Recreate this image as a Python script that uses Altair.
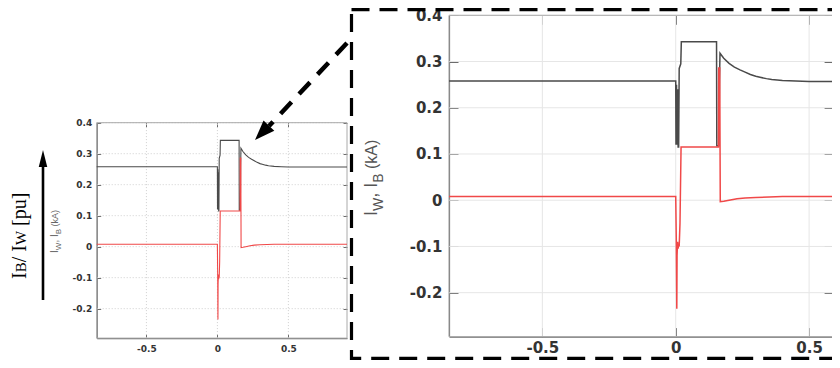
import altair as alt
import pandas as pd

# ---------------- data ----------------
# black trace (I_W)
t_w = [-0.85, 0.0, 0.001, 0.003, 0.005, 0.007, 0.009, 0.011, 0.013, 0.019, 0.021,
       0.153, 0.154, 0.162, 0.164, 0.166, 0.18, 0.2, 0.22, 0.241, 0.26, 0.28,
       0.3, 0.316, 0.34, 0.36, 0.4, 0.45, 0.5, 1.0]
i_w = [0.258, 0.258, 0.12, 0.25, 0.12, 0.24, 0.115, 0.115, 0.285, 0.295, 0.343,
       0.343, 0.118, 0.118, 0.26, 0.318, 0.307, 0.296, 0.288, 0.282, 0.277, 0.272,
       0.268, 0.266, 0.263, 0.261, 0.259, 0.258, 0.257, 0.257]
# red trace (I_B)
t_b = [-0.85, 0.0, 0.002, 0.004, 0.005, 0.007, 0.009, 0.011, 0.013, 0.016, 0.02,
       0.16, 0.161, 0.165, 0.167, 0.18, 0.2, 0.23, 0.26, 0.3, 0.35, 0.4, 1.0]
i_b = [0.008, 0.008, -0.08, -0.235, -0.12, -0.09, -0.105, -0.095, -0.1, -0.05, 0.115,
       0.115, 0.286, 0.286, -0.003, -0.002, 0.0, 0.003, 0.005, 0.006, 0.007, 0.008, 0.008]

x_ticks = [-0.5, 0, 0.5]
y_ticks = [-0.2, -0.1, 0, 0.1, 0.2, 0.3, 0.4]
x_dom_small = [-0.85, 0.913]
x_dom_zoom = [-0.85, 0.59]
y_dom = [-0.295, 0.4]

W, H = 824, 352

df_w = pd.DataFrame({"t": t_w, "i": i_w})
df_b = pd.DataFrame({"t": t_b, "i": i_b})
one = pd.DataFrame({"a": [0]})


def panel(xdom, xr, ydom, yr, fs, lw, tick_len, lpx, lpy, grid_props):
    xs = alt.Scale(domain=xdom, range=xr, clamp=True, nice=False, zero=False)
    ys = alt.Scale(domain=ydom, range=yr, nice=False, zero=False)
    frame = pd.DataFrame({"x0": [xdom[0]], "x1": [xdom[1]], "y0": [ydom[0]], "y1": [ydom[1]]})
    gx = pd.DataFrame({"v": x_ticks, "a": ydom[0], "b": ydom[1]})
    gy = pd.DataFrame({"v": y_ticks, "a": xdom[0], "b": xdom[1]})
    grid_x = alt.Chart(gx).mark_rule(**grid_props).encode(
        x=alt.X("v:Q", scale=xs, axis=None),
        y=alt.Y("a:Q", scale=ys, axis=None), y2="b:Q")
    grid_y = alt.Chart(gy).mark_rule(**grid_props).encode(
        y=alt.Y("v:Q", scale=ys, axis=None),
        x=alt.X("a:Q", scale=xs, axis=None), x2="b:Q")
    lab = dict(labelFont="DejaVu Sans", labelFontSize=fs, labelFontWeight="bold",
               labelColor="#333333", labelExpr="toString(datum.value)", title=None,
               ticks=False, domain=True, domainColor="#6a6a6a", domainWidth=1.2,
               grid=False)
    base = alt.Chart(frame).mark_rect(fillOpacity=0, stroke="#aaaaaa", strokeWidth=1).encode(
        x=alt.X("x0:Q", scale=xs, axis=alt.Axis(orient="bottom", offset=yr[0] - H,
                                                   values=x_ticks, labelPadding=lpx, **lab)),
        x2="x1:Q",
        y=alt.Y("y0:Q", scale=ys, axis=alt.Axis(orient="left", offset=-xr[0],
                                                   values=y_ticks, labelPadding=lpy, **lab)),
        y2="y1:Q",
    )
    tk = dict(labels=False, domain=False, grid=False, ticks=True, tickSize=tick_len,
              tickColor="#6a6a6a", tickWidth=1, title=None)
    ticks_a = alt.Chart(frame).mark_point(opacity=0).encode(
        x=alt.X("x0:Q", scale=xs, axis=alt.Axis(orient="top", offset=-yr[0], values=x_ticks, **tk)),
        y=alt.Y("y0:Q", scale=ys, axis=alt.Axis(orient="right", offset=xr[0] - W, values=y_ticks, **tk)),
    )
    ticks_b = alt.Chart(frame).mark_point(opacity=0).encode(
        x=alt.X("x0:Q", scale=xs, axis=alt.Axis(orient="bottom", offset=yr[1] - H, values=x_ticks, **tk)),
        y=alt.Y("y0:Q", scale=ys, axis=alt.Axis(orient="left", offset=-xr[1], values=y_ticks, **tk)),
    )
    black = alt.Chart(df_w).mark_line(color="#4a4a4a", strokeWidth=lw).encode(
        x=alt.X("t:Q", scale=xs, axis=None), y=alt.Y("i:Q", scale=ys, axis=None))
    red = alt.Chart(df_b).mark_line(color="#f04848", strokeWidth=lw).encode(
        x=alt.X("t:Q", scale=xs, axis=None), y=alt.Y("i:Q", scale=ys, axis=None))
    return [grid_x, grid_y, base, ticks_a, ticks_b, black, red]


def vtext(txt, x, y, size, font, color):
    return alt.Chart(one).mark_text(text=txt, angle=270, align="left", baseline="alphabetic",
                                    font=font, fontSize=size, color=color).encode(
        x=alt.value(x), y=alt.value(y))


small = panel(x_dom_small, [88.7, 339.0], y_dom, [330.1, 114.7], 9, 1.1, 4, 6, 5,
              dict(color="#cfcfcf", strokeDash=[1, 2], strokeWidth=1))
zoom = panel(x_dom_zoom, [441.0, 825.1], y_dom, [328.6, 7.3], 15, 1.5, 9, 4, 7,
             dict(color="#e6e6e6", strokeWidth=1))

# dashed frame around the zoomed panel
box = alt.Chart(one).mark_rect(fillOpacity=0, stroke="black", strokeWidth=3.2,
                               strokeDash=[18, 10]).encode(
    x=alt.value(343.5), x2=alt.value(860), y=alt.value(1.7), y2=alt.value(H - 1.6))

# dashed pointer arrow
arrow_line = alt.Chart(one).mark_rule(color="black", strokeWidth=4.5, strokeDash=[16, 11]).encode(
    x=alt.value(339), y=alt.value(35), x2=alt.value(261), y2=alt.value(118))
arrow_head = alt.Chart(one).mark_point(shape="M0,-1L0.6,0.6L-0.6,0.6Z", filled=True, color="black",
                                       opacity=1, size=625, angle=224).encode(
    x=alt.value(255.7), y=alt.value(123))

# upward arrow beside the outer label
up_line = alt.Chart(one).mark_rule(color="black", strokeWidth=2.6).encode(
    x=alt.value(35), y=alt.value(292), y2=alt.value(156))
up_head = alt.Chart(one).mark_point(shape="M0,-1L0.4,0.6L-0.4,0.6Z", filled=True, color="black",
                                    opacity=1, size=450, angle=0).encode(
    x=alt.value(35), y=alt.value(152.6))

serif = "Liberation Serif"
sans = "Liberation Sans"
texts = [
    # outer label  I_B / I_W [pu]
    vtext("I", 18, 271, 20, serif, "black"),
    vtext("B", 18, 264.3, 15, serif, "black"),
    vtext("/ I", 18, 254.3, 20, serif, "black"),
    vtext("W", 18, 237.1, 15, serif, "black"),
    vtext("[pu]", 18, 217.9, 20, serif, "black"),
    # small panel y title  I_W, I_B (kA)
    vtext("I", 49.5, 245, 10, sans, "#666666"),
    vtext("W", 52.5, 242.2, 8, sans, "#666666"),
    vtext(", I", 49.5, 234.6, 10, sans, "#666666"),
    vtext("B", 52.5, 226.3, 8, sans, "#666666"),
    vtext("(kA)", 49.5, 218.5, 9, sans, "#666666"),
    # zoomed panel y title
    vtext("I", 369, 208, 18, sans, "#555555"),
    vtext("W", 375, 203, 14, sans, "#555555"),
    vtext(", I", 369, 189.8, 18, sans, "#555555"),
    vtext("B", 375, 174.8, 14, sans, "#555555"),
    vtext("(kA)", 369, 161.1, 16, sans, "#555555"),
]

chart = alt.layer(*small, *zoom, box, arrow_line, arrow_head, up_line, up_head, *texts).resolve_scale(
    x="independent", y="independent"
).properties(
    width=W, height=H, autosize=alt.AutoSizeParams(type="none"), padding=0
).configure_view(strokeWidth=0)

chart.save("out.html", embed_options={"renderer": "svg", "actions": False})
